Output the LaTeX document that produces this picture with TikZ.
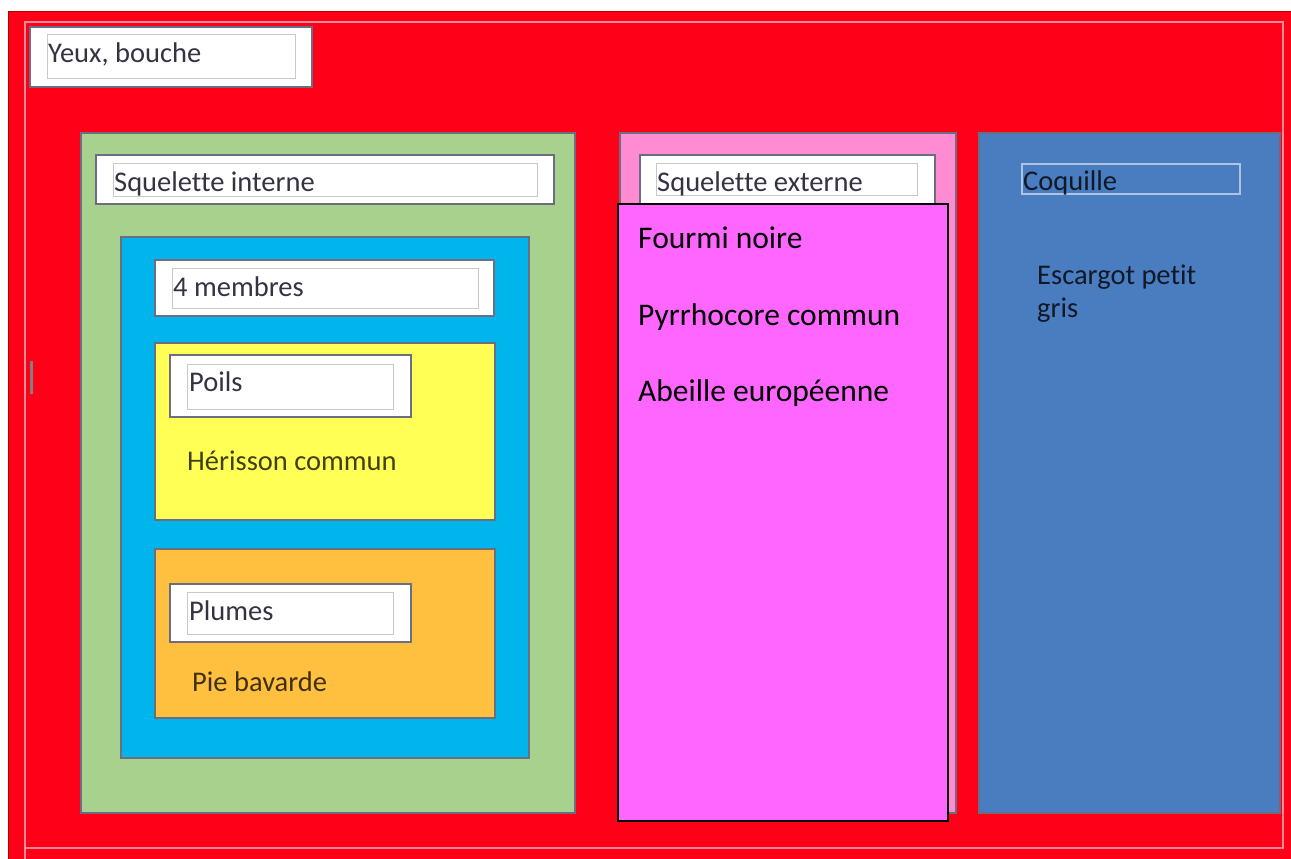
\documentclass[tikz,border=0pt]{standalone}
\usepackage{fontspec}
\setmainfont[Ligatures=CommonOff]{Carlito}
\usetikzlibrary{positioning}

\definecolor{rouge}{HTML}{FF0019}
\definecolor{vert}{HTML}{A9D18E}
\definecolor{cyan}{HTML}{00B4EC}
\definecolor{jaune}{HTML}{FFFF55}
\definecolor{orange}{HTML}{FFC040}
\definecolor{rose}{HTML}{FF8CD2}
\definecolor{magenta}{HTML}{FF66FF}
\definecolor{bleu}{HTML}{4A7CC0}
\definecolor{bord}{HTML}{6A6E80}
\definecolor{gris}{HTML}{C8C8C8}
\definecolor{encre}{HTML}{333344}

\begin{document}
\begin{tikzpicture}[x=1pt,y=-1pt,
	boite/.style={draw=bord,line width=1.2pt},
	etiq/.style={fill=white,draw=bord,line width=1.2pt},
	cadre/.style={draw=gris,line width=1pt},
	txt/.style={anchor=base west,inner sep=0pt,font=\fontsize{28.5}{33}\selectfont,text=encre},
	grand/.style={anchor=base west,inner sep=0pt,font=\fontsize{31.5}{37}\selectfont,text=black}]
	\useasboundingbox (0,0) rectangle (1291,859);
	\fill[white] (0,0) rectangle (1291,859);
	
	% fond rouge
	\fill[rouge] (8,12) rectangle (1291,859);
	\draw[red!70!black,line width=1pt] (8,859) -- (8,12) -- (1291,12);
	\draw[white!55!rouge,line width=1.2pt] (25,859) -- (25,22) -- (1283,22) -- (1283,848) -- (25,848);
	\fill[gray] (30,361) rectangle (33,394);
	
	% Yeux, bouche
	\draw[etiq] (30,27) rectangle (312,87);
	\draw[cadre] (47,35) rectangle (295,79);
	\node[txt] (yeux) at (48,63) {Yeux, bouche};
	
	% squelette interne
	\draw[boite,fill=vert] (81,133) rectangle (575,813);
	\draw[etiq] (96,155) rectangle (554,204);
	\draw[cadre] (113,163) rectangle (537,196);
	\node[txt] (interne) at (114,191) {Squelette interne};
	
	\draw[boite,fill=cyan] (121,237) rectangle (529,758);
	\draw[etiq] (155,260) rectangle (494,316);
	\draw[cadre] (172,268) rectangle (478,308);
	\node[txt] (membres) at (173,296) {4 membres};
	
	% poils
	\draw[boite,fill=jaune] (155,343) rectangle (495,520);
	\draw[etiq] (170,355) rectangle (411,417);
	\draw[cadre] (187,364) rectangle (393,409);
	\node[txt] (poils) at (189,391) {Poils};
	\node[txt,text=black!75!jaune] (herisson) at (187,470) {Hérisson commun};
	
	% plumes
	\draw[boite,fill=orange] (155,549) rectangle (495,718);
	\draw[etiq] (170,584) rectangle (411,642);
	\draw[cadre] (187,592) rectangle (393,634);
	\node[txt] (plumes) at (189,620) {Plumes};
	\node[txt,text=black!75!orange] (pie) at (192,691) {Pie bavarde};
	
	% squelette externe
	\draw[boite,fill=rose] (620,133) rectangle (956,813);
	\draw[etiq] (640,155) rectangle (935,204);
	\draw[cadre] (656,163) rectangle (917,195);
	\node[txt] (externe) at (657,191) {Squelette externe};
	
	\draw[fill=magenta,line width=1.2pt] (618,204) rectangle (948,821);
	\node[grand] (fourmi) at (638,248) {Fourmi noire};
	\node[grand] (pyrrho) at (638,325) {Pyrrhocore commun};
	\node[grand] (abeille) at (638,401) {Abeille européenne};
	
	% coquille
	\draw[boite,fill=bleu] (979,133) rectangle (1280,813);
	\draw[draw=white!55!bleu,line width=1.2pt] (1022,164) rectangle (1240,194);
	\node[txt,text=black!80!bleu] (coquille) at (1023,190) {Coquille};
	\node[txt,text=black!80!bleu] (escargot) at (1037,284) {Escargot petit};
	\node[txt,text=black!80!bleu] (gris) at (1037,317) {gris};
\end{tikzpicture}
\end{document}
